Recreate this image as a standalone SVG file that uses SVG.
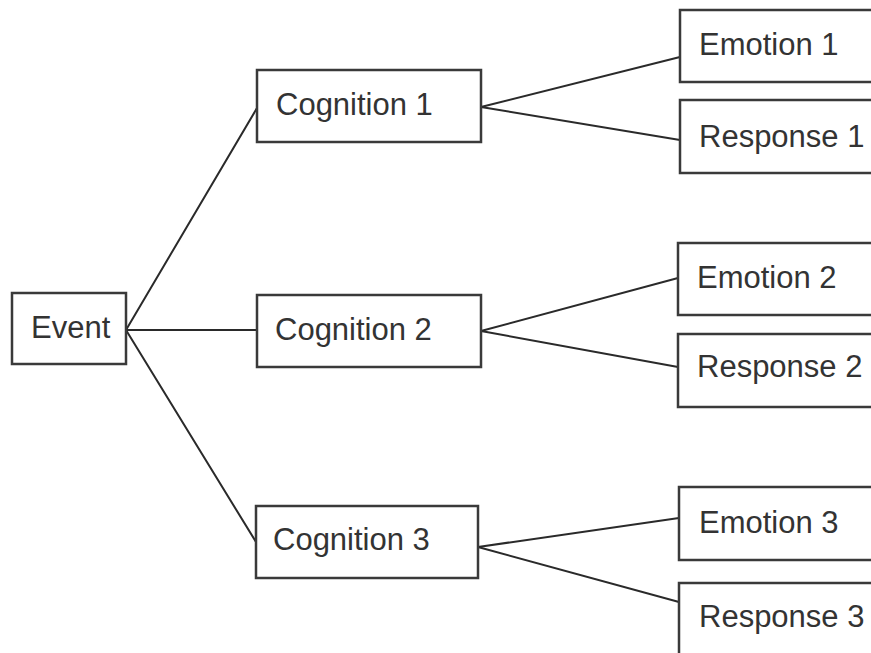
<svg xmlns="http://www.w3.org/2000/svg" width="871" height="653" viewBox="0 0 871 653">
<style>
.box{fill:#fff;stroke:#3a3a3a;stroke-width:2.5}
.lbl{font-family:"Liberation Sans",Arial,sans-serif;font-size:31px;fill:#333}
.conn line{stroke:#2a2a2a;stroke-width:2;stroke-linecap:round}
</style>
<rect width="871" height="653" fill="#fff"/>
<g class="conn" id="connectors">
<line x1="126" y1="330" x2="257" y2="108"/>
<line x1="126" y1="330" x2="257" y2="330"/>
<line x1="126" y1="330" x2="256" y2="542"/>
<line x1="481" y1="107" x2="680" y2="57"/>
<line x1="481" y1="107" x2="680" y2="140"/>
<line x1="481" y1="331" x2="678" y2="278"/>
<line x1="481" y1="331" x2="678" y2="367"/>
<line x1="478" y1="547" x2="679" y2="518"/>
<line x1="478" y1="547" x2="679" y2="602"/>
</g>
<g id="event"><rect class="box" x="12" y="293" width="114" height="71"/><text class="lbl" x="31" y="338">Event</text></g>
<g id="cognition1"><rect class="box" x="257" y="70" width="224" height="72"/><text class="lbl" x="276" y="115">Cognition 1</text></g>
<g id="cognition2"><rect class="box" x="257" y="295" width="224" height="72"/><text class="lbl" x="275" y="340">Cognition 2</text></g>
<g id="cognition3"><rect class="box" x="256" y="506" width="222" height="72"/><text class="lbl" x="273" y="550">Cognition 3</text></g>
<g id="emotion1"><rect class="box" x="680" y="10" width="200" height="72"/><text class="lbl" x="699" y="55">Emotion 1</text></g>
<g id="response1"><rect class="box" x="680" y="100" width="200" height="73"/><text class="lbl" x="699" y="147">Response 1</text></g>
<g id="emotion2"><rect class="box" x="678" y="243" width="200" height="72"/><text class="lbl" x="697" y="288">Emotion 2</text></g>
<g id="response2"><rect class="box" x="678" y="334" width="200" height="73"/><text class="lbl" x="697" y="377">Response 2</text></g>
<g id="emotion3"><rect class="box" x="679" y="487" width="200" height="73"/><text class="lbl" x="699" y="533">Emotion 3</text></g>
<g id="response3"><rect class="box" x="679" y="583" width="200" height="80"/><text class="lbl" x="699" y="627">Response 3</text></g>
</svg>
